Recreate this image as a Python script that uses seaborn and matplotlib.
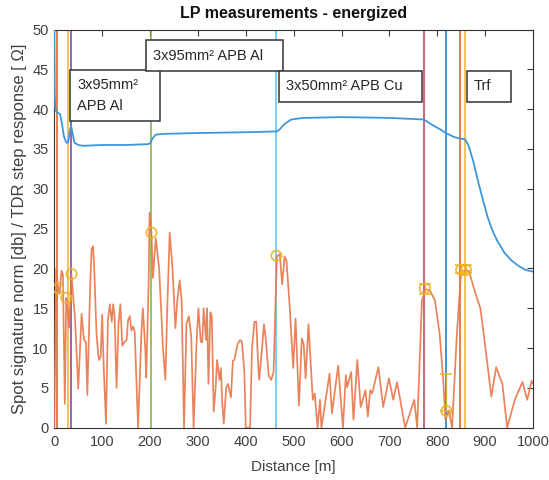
import matplotlib
matplotlib.use("Agg")
import matplotlib.pyplot as plt
import seaborn as sns
import pandas as pd
from matplotlib.patches import Rectangle

# ---------------- data ----------------
tdr_dist = [0, 1, 2, 5, 12, 16, 20, 25, 29, 32, 35, 38, 42, 50, 60, 100, 150, 195, 200, 205,
            212, 230, 300, 400, 464, 470, 480, 495, 520, 600, 700, 772, 790, 805, 818, 835,
            848, 858, 865, 875, 885, 895, 905, 915, 925, 940, 955, 970, 985, 1000]
tdr_ohm = [50, 42, 40, 39.6, 39.4, 38.2, 36.6, 35.8, 35.8, 37.2, 37.9, 37.0, 35.8, 35.5, 35.4,
           35.5, 35.5, 35.6, 35.7, 36.3, 36.8, 36.9, 37.0, 37.1, 37.2, 37.4, 38.1, 38.7, 38.9,
           39.0, 38.9, 38.7, 38.0, 37.5, 37.0, 36.5, 36.3, 36.2, 35.5, 33.5, 31.0, 28.7, 26.5,
           24.8, 23.5, 22.0, 21.0, 20.3, 19.8, 19.6]

sig_dist = [0, 4, 8, 11, 15, 18, 22, 25, 28, 31, 36, 40, 43, 50, 57, 62, 66, 69, 75, 78, 81, 84,
            88, 92, 94, 97, 100, 103, 108, 112, 116, 120, 123, 126, 130, 134, 138, 142, 147, 151,
            154, 158, 161, 165, 168, 175, 182, 185, 190, 192, 197, 199, 203, 206, 212, 219, 227,
            232, 236, 241, 247, 253, 257, 262, 266, 271, 276, 281, 286, 291, 297, 301, 306, 309,
            312, 317, 319, 322, 326, 329, 333, 337, 340, 345, 348, 351, 354, 359, 363, 369, 373,
            376, 383, 388, 392, 397, 400, 409, 413, 418, 422, 425, 428, 434, 438, 442, 448, 453,
            458, 465, 471, 476, 481, 485, 492, 499, 504, 511, 517, 521, 525, 531, 540, 544, 550,
            555, 558, 575, 580, 593, 603, 609, 612, 620, 625, 633, 640, 650, 655, 660, 664, 677,
            687, 699, 708, 716, 733, 752, 758, 768, 776, 785, 795, 805, 813, 817, 824, 831, 841,
            850, 866, 880, 890, 897, 913, 923, 936, 946, 962, 978, 988, 997, 1000]
sig_db = [0, 20, 17.5, 16.8, 19.7, 19.2, 3, 16.3, 15, 12.6, 19.2, 16, 14, 4.9, 14.3, 11, 10.8,
          4.1, 18, 22.5, 22.8, 19, 12, 9, 8.5, 9, 14.2, 8, 0.5, 13.5, 15.5, 13.3, 15.5, 14, 5,
          13, 15.5, 10.3, 10.8, 11, 13.5, 14, 12.2, 12.7, 12, 0, 12, 15, 10, 6.3, 18, 27, 24.5,
          18.8, 23.8, 20, 10, 6, 15, 24.5, 20, 12.5, 16, 18.5, 16, 0, 13, 14, 11.5, 0, 10.5, 15,
          10.8, 10.7, 15, 11, 15, 5.5, 14.5, 14, 2, 5, 8.5, 6, 7.5, 3, 0.5, 5, 5.5, 3.8, 8.4, 8.5,
          10.5, 11, 10.8, 7, 0, 0, 10, 13.3, 13.3, 9, 6, 10, 13, 11, 6.5, 6, 7, 21.5, 21.8, 18,
          21.5, 21, 15, 7.5, 13.7, 2.8, 11.2, 10.5, 6.2, 13, 3.5, 4.3, 0, 3.5, 0, 6.8, 1.8, 7.8,
          0, 6.6, 5.1, 7, 1, 8.5, 2.6, 4.7, 1.4, 4.7, 4.3, 7.6, 2.6, 6.2, 3.5, 5.7, 0, 3.5, 0,
          16, 17.4, 17.2, 16, 11.8, 5.5, 1, 2.2, 0, 11.8, 19.7, 19.7, 16.8, 15, 11.8, 3.9, 7.6,
          5.5, 0, 3.5, 5.75, 3.5, 5.9, 5.5]

mark_dist = [8, 25, 36, 203, 464, 774, 819, 850, 860]
mark_db = [17.5, 16.3, 19.3, 24.5, 21.6, 17.5, 2.1, 19.8, 19.8]

err_dist = [774, 819, 850, 860]
err_db = [17.5, 2.1, 19.8, 19.8]
err_lo = [0.7, 0.0, 0.4, 0.4]
err_hi = [0.6, 4.7, 0.6, 0.6]

vline_pos = [0, 5, 28, 34, 201, 464, 772, 818, 848, 857]
vline_col = ["#0072BD", "#D95319", "#EDB120", "#7E2F8E", "#77AC30", "#4DBEEE",
             "#C0304A", "#0072BD", "#D95319", "#EDB120"]

box_texts = ["3x95mm²\nAPB Al", "3x95mm² APB Al", "3x50mm² APB Cu", "Trf"]

title = "LP measurements - energized"
xlabel = "Distance [m]"
ylabel = "Spot signature norm [db] / TDR step response [ Ω]"

# ---------------- style ----------------
sns.set_style("white")
plt.rcParams["font.family"] = ["Liberation Sans", "DejaVu Sans"]

fig = plt.figure(figsize=(5.49, 4.8), dpi=100)
ax = fig.add_axes([54.3 / 549, 1 - 427.7 / 480, (533 - 54.3) / 549, (427.7 - 29.5) / 480])

tdr = pd.DataFrame({"d": tdr_dist, "v": tdr_ohm})
sig = pd.DataFrame({"d": sig_dist, "v": sig_db})
mk = pd.DataFrame({"d": mark_dist, "v": mark_db})

for xp, c in zip(vline_pos, vline_col):
    ax.axvline(xp, color=c, lw=1.4, alpha=0.75, zorder=2)

sns.lineplot(data=sig, x="d", y="v", ax=ax, color="#E8764A", lw=1.25, alpha=0.9,
             estimator=None, sort=False, zorder=3)
sns.lineplot(data=tdr, x="d", y="v", ax=ax, color="#3D97D8", lw=1.3,
             estimator=None, sort=False, zorder=3)

sns.scatterplot(data=mk, x="d", y="v", ax=ax, s=55, marker="o", facecolor="none",
                edgecolor="#EDB120", linewidth=1.3, alpha=0.85, zorder=4)
ax.errorbar(err_dist, err_db, yerr=[err_lo, err_hi], fmt="none", ecolor="#EDB120",
            elinewidth=1.0, capsize=4, capthick=1.3, alpha=0.8, zorder=4)

ax.set_xlim(0, 1000)
ax.set_ylim(0, 50)
ax.set_xticks(range(0, 1001, 100))
ax.set_yticks(range(0, 51, 5))
ax.tick_params(direction="in", top=True, right=True, length=4, width=0.8,
               labelsize=10.5, colors="#3a3a3a", labelcolor="#404040")
ax.tick_params(axis="x", pad=5)
ax.tick_params(axis="y", pad=4)
for s in ax.spines.values():
    s.set_color("#333333")
    s.set_linewidth(0.8)

ax.set_xlabel(xlabel, fontsize=11, color="#404040", labelpad=8)
ax.set_ylabel(ylabel, fontsize=12, color="#404040", labelpad=4)
ax.set_title(title, fontsize=11.5, fontweight="bold", color="#111111", pad=8)

# annotation boxes (pixel layout)
def fx(x):
    return x / 549

def fy(y):
    return 1 - y / 480

boxes = [(70, 70, 160, 121), (146, 40, 283, 71), (279, 71, 422, 102), (467, 71, 511, 102)]
for (x0, y0, x1, y1), t in zip(boxes, box_texts):
    r = Rectangle((fx(x0), fy(y1)), fx(x1) - fx(x0), fy(y0) - fy(y1), transform=fig.transFigure,
                  facecolor="white", edgecolor="#333333", lw=1.1, zorder=10, clip_on=False)
    ax.add_patch(r)
    ax.text(fx(x0 + 7), (fy(y0) + fy(y1)) / 2, t, transform=fig.transFigure, ha="left",
            va="center", fontsize=10.5, color="#262626", zorder=11, linespacing=1.55)

fig.savefig("out.png", dpi=100)
